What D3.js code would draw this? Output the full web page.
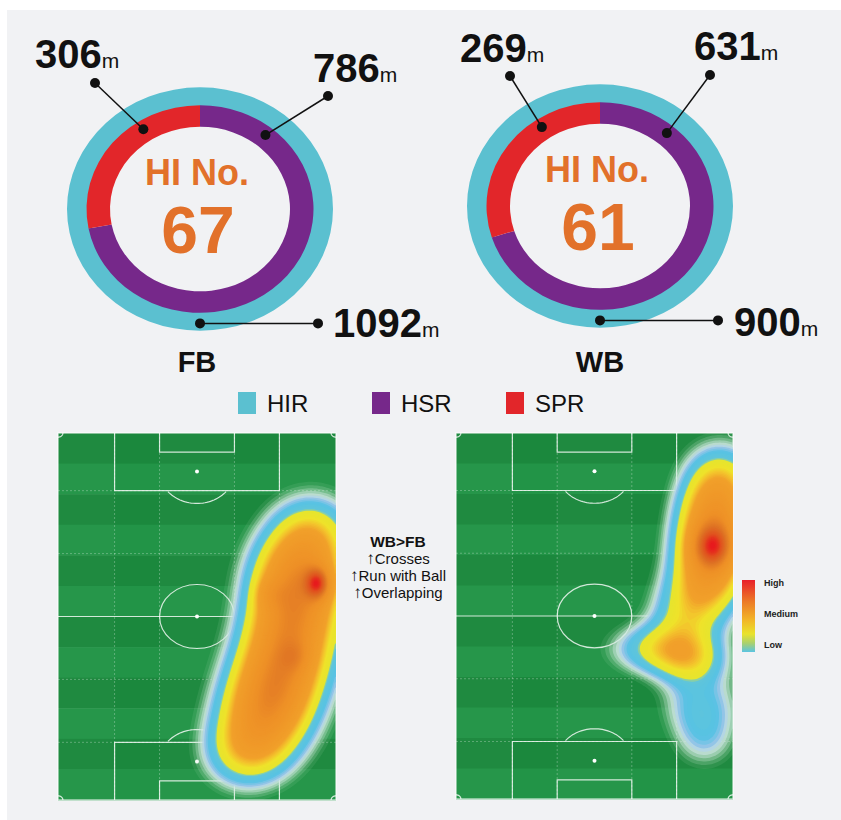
<!DOCTYPE html>
<html><head><meta charset="utf-8">
<script src="https://cdn.jsdelivr.net/npm/d3@7"></script>
<style>
body{margin:0;background:#fff;}
svg{display:block;font-family:"Liberation Sans",Arial,Helvetica,sans-serif;}
</style>
</head><body>
<svg id="c" width="841" height="820"></svg>
<script>
// ---------------- DATA ----------------
const groups = ["FB", "WB"];
const hiNumbers = [67, 61];
const hirValues = [1092, 900];
const hsrValues = [786, 631];
const sprValues = [306, 269];
const seriesNames = ["HIR", "HSR", "SPR"];
const noteTitle = "WB>FB";
const noteItems = ["Crosses", "Run with Ball", "Overlapping"];
const heatLevels = ["High", "Medium", "Low"];
// heat hotspots: [across pitch 0-68, along pitch 0-105, weight, spreadX, spreadY]
const fbHeat = [
  [62, 28, 0.4, 7, 7.5], [59, 39, 0.7, 7.5, 8], [58, 50, 0.7, 7.5, 8], [56, 62, 0.7, 7.5, 8],
  [53, 73, 0.7, 7.5, 8], [50, 83, 0.6, 7.5, 8], [46, 92, 0.38, 7, 7],
  [63.5, 43, 0.8, 2, 3], [52, 46, 0.14, 2.5, 3], [58, 64, 0.14, 2.5, 3]
];
const wbHeat = [
  [65, 12, 0.3, 6, 7], [64, 21, 0.55, 6, 8], [63, 31, 0.7, 6, 8], [62, 42, 0.55, 6, 8],
  [56, 53, 0.35, 6, 8], [50, 62, 0.4, 8, 5], [58, 66, 0.3, 6, 5],
  [60, 78, 0.25, 6.5, 6], [61, 88, 0.2, 5.5, 6], [63, 32.5, 0.7, 3, 4], [31, 37, 0.07, 4, 8]
];

// ---------------- LAYOUT ----------------
const svg = d3.select("#c");
const W = 841, H = 820;
const panel = "#f1f2f4";
svg.append("rect").attr("x", 7).attr("y", 10).attr("width", W - 7).attr("height", H - 10).attr("fill", panel);

const colors = { HIR: "#5bc0d0", HSR: "#76288a", SPR: "#e2262a" };
const orange = "#e2712a";
const sy = 0.915;

const donuts = [
  { cx: 200, cy: 209,
    spr: { ang: -33, dotX: 95, dotY: 83, tx: 35, ty: 68 },
    hsr: { ang: 39, dotX: 328, dotY: 96, tx: 313, ty: 82 },
    hir: { ang: 180, dotX: 318, tx: 333, ty: 337 },
    name: [197, 372] },
  { cx: 600, cy: 206,
    spr: { ang: -34, dotX: 510, dotY: 76, tx: 460, ty: 62 },
    hsr: { ang: 40, dotX: 710, dotY: 75, tx: 694, ty: 60 },
    hir: { ang: 180, dotX: 718, tx: 734, ty: 336 },
    name: [600, 372] }
];

const arcOuter = d3.arc().innerRadius(110).outerRadius(133);
const arcInner = d3.arc().innerRadius(90).outerRadius(113.5);
const pie = d3.pie().sort(null).value(d => d.v);

groups.forEach((gname, i) => {
  const L = donuts[i];
  const g = svg.append("g").attr("transform", `translate(${L.cx},${L.cy}) scale(1,${sy})`);
  g.append("path").attr("d", arcOuter({ startAngle: 0, endAngle: 2 * Math.PI })).attr("fill", colors.HIR);
  g.append("circle").attr("r", 90).attr("fill", panel);
  const slices = pie([{ k: "HSR", v: hsrValues[i] }, { k: "SPR", v: sprValues[i] }]);
  g.selectAll("path.s").data(slices).join("path").attr("class", "s")
    .attr("d", arcInner).attr("fill", d => colors[d.data.k]);

  svg.append("text").attr("x", L.cx - 3).attr("y", L.cy - 24).attr("text-anchor", "middle")
    .attr("font-size", 36).attr("font-weight", "bold").attr("fill", orange).text("HI No.");
  svg.append("text").attr("x", L.cx - 2).attr("y", L.cy + 44).attr("text-anchor", "middle")
    .attr("font-size", 66).attr("font-weight", "bold").attr("fill", orange).text(hiNumbers[i]);

  const items = [
    { key: "spr", v: sprValues[i], r: 104 },
    { key: "hsr", v: hsrValues[i], r: 104 },
    { key: "hir", v: hirValues[i], r: 125 }
  ];
  items.forEach(it => {
    const c = L[it.key];
    const a = c.ang * Math.PI / 180;
    const px = L.cx + it.r * Math.sin(a), py = L.cy - it.r * Math.cos(a) * sy;
    const dy = c.dotY === undefined ? py : c.dotY;
    svg.append("line").attr("x1", px).attr("y1", py).attr("x2", c.dotX).attr("y2", dy)
      .attr("stroke", "#111").attr("stroke-width", 1.5);
    svg.append("circle").attr("cx", px).attr("cy", py).attr("r", 5).attr("fill", "#111");
    svg.append("circle").attr("cx", c.dotX).attr("cy", dy).attr("r", 5).attr("fill", "#111");
    const t = svg.append("text").attr("x", c.tx).attr("y", c.ty).attr("fill", "#111");
    t.append("tspan").attr("font-size", 40).attr("font-weight", "bold").text(it.v);
    t.append("tspan").attr("font-size", 21).text("m");
  });
  svg.append("text").attr("x", L.name[0]).attr("y", L.name[1]).attr("text-anchor", "middle")
    .attr("font-size", 29).attr("font-weight", "bold").attr("fill", "#111").text(gname);
});

// legend
const legX = d3.scaleLinear().domain([0, 2]).range([238, 506]);
seriesNames.forEach((s, i) => {
  svg.append("rect").attr("x", legX(i)).attr("y", 392).attr("width", 18).attr("height", 22).attr("fill", colors[s]);
  svg.append("text").attr("x", legX(i) + 29).attr("y", 412).attr("font-size", 24).attr("fill", "#111").text(s);
});

// notes
const notes = svg.append("text").attr("text-anchor", "middle").attr("fill", "#111");
notes.append("tspan").attr("x", 398).attr("y", 547).attr("font-size", 15.5).attr("font-weight", "bold").text(noteTitle);
noteItems.forEach((n, i) => {
  const ts = notes.append("tspan").attr("x", 398).attr("y", 564 + i * 16.8).attr("font-size", 15);
  ts.append("tspan").attr("font-weight", "bold").attr("font-size", 17).text("\u2191");
  ts.append("tspan").text(n);
});

// ---------------- PITCHES ----------------
const PW = 68, PL = 105, res = 2;
const heatStops = [
  [0.03, "rgba(225,240,228,0.0)"],
  [0.06, "rgba(215,238,222,0.22)"],
  [0.09, "rgba(210,232,232,0.55)"],
  [0.11, "#9cc6e8"],
  [0.14, "#56c2e4"],
  [0.195, "#62c6d8"],
  [0.205, "#e5e52e"],
  [0.27, "#efe22a"],
  [0.31, "#f3c42c"],
  [0.36, "#f1a02a"],
  [0.60, "#ee9026"],
  [0.75, "#de7224"],
  [0.88, "#e0531f"],
  [1.0, "#e8151d"]
];
const heatColor = d3.scaleLinear().domain(heatStops.map(d => d[0])).range(heatStops.map(d => d[1]))
  .interpolate(d3.interpolateRgb).clamp(true);

const pitches = [
  { x0: 58, x1: 336, y0: 433, y1: 800, heat: fbHeat },
  { x0: 456, x1: 733, y0: 433, y1: 799, heat: wbHeat }
];

const defs = svg.append("defs");
pitches.forEach((P, pi) => {
  const x = d3.scaleLinear().domain([0, PW]).range([P.x0, P.x1]);
  const y = d3.scaleLinear().domain([0, PL]).range([P.y0, P.y1]);
  const g = svg.append("g");
  defs.append("clipPath").attr("id", "clip" + pi).append("rect")
    .attr("x", P.x0).attr("y", P.y0).attr("width", P.x1 - P.x0).attr("height", P.y1 - P.y0);

  const nStripe = 12;
  g.selectAll("rect.st").data(d3.range(nStripe)).join("rect").attr("class", "st")
    .attr("x", x(0)).attr("width", x(PW) - x(0))
    .attr("y", d => y(d * PL / nStripe)).attr("height", y(PL / nStripe) - y(0) + 0.5)
    .attr("fill", d => d % 2 === 0 ? "#1b883d" : "#229447");
  const cols = [0, 13.84, 24.84, 43.16, 54.16, PW];
  g.selectAll("rect.col").data(d3.range(cols.length - 1)).join("rect").attr("class", "col")
    .attr("x", d => x(cols[d])).attr("width", d => x(cols[d + 1]) - x(cols[d]))
    .attr("y", y(0)).attr("height", y(PL) - y(0))
    .attr("fill", "#ffffff").attr("opacity", d => d % 2 === 0 ? 0.02 : 0);

  const grid = g.append("g").attr("stroke", "#ffffff").attr("stroke-opacity", 0.35)
    .attr("stroke-width", 0.8).attr("stroke-dasharray", "2,2");
  [13.84, 24.84, 43.16, 54.16].forEach(v => grid.append("line").attr("x1", x(v)).attr("x2", x(v)).attr("y1", y(0)).attr("y2", y(PL)));
  [16.5, 34.5, 70.5, 88.5].forEach(v => grid.append("line").attr("x1", x(0)).attr("x2", x(PW)).attr("y1", y(v)).attr("y2", y(v)));

  const ln = g.append("g").attr("fill", "none").attr("stroke", "#ffffff").attr("stroke-opacity", 0.8).attr("stroke-width", 1.2);
  ln.append("rect").attr("x", x(0)).attr("y", y(0)).attr("width", x(PW) - x(0)).attr("height", y(PL) - y(0));
  ln.append("line").attr("x1", x(0)).attr("x2", x(PW)).attr("y1", y(52.5)).attr("y2", y(52.5));
  ln.append("ellipse").attr("cx", x(34)).attr("cy", y(52.5)).attr("rx", x(9.15) - x(0)).attr("ry", y(9.15) - y(0));
  [[0, 1], [PL, -1]].forEach(([base, dir]) => {
    const yy = v => y(base + dir * v);
    ln.append("path").attr("d", `M${x(13.84)},${yy(0)}V${yy(16.5)}H${x(54.16)}V${yy(0)}`);
    ln.append("path").attr("d", `M${x(24.84)},${yy(0)}V${yy(5.5)}H${x(43.16)}V${yy(0)}`);
    const arcPts = d3.range(0, 181, 3).map(t => {
      const a = t * Math.PI / 180;
      return [34 + 9.15 * Math.cos(a), 11 + 9.15 * Math.sin(a)];
    }).filter(p => p[1] >= 16.5);
    ln.append("path").attr("d", d3.line().x(p => x(p[0])).y(p => yy(p[1]))(arcPts));
    g.append("circle").attr("cx", x(34)).attr("cy", yy(11)).attr("r", 2).attr("fill", "#fff");
  });
  g.append("circle").attr("cx", x(34)).attr("cy", y(52.5)).attr("r", 2).attr("fill", "#fff");
  [[0, 0], [PW, 0], [0, PL], [PW, PL]].forEach(([cx, cy]) => {
    const pts = d3.range(0, 91, 10).map(t => {
      const a = t * Math.PI / 180;
      return [cx + (cx === 0 ? 1 : -1) * 1.2 * Math.cos(a), cy + (cy === 0 ? 1 : -1) * 1.2 * Math.sin(a)];
    });
    ln.append("path").attr("d", d3.line().x(p => x(p[0])).y(p => y(p[1]))(pts));
  });

  // heat density grid
  const nx = PW * res, ny = PL * res;
  const vals = new Array(nx * ny);
  for (let j = 0; j < ny; j++) for (let i = 0; i < nx; i++) {
    const px = (i + 0.5) / res, py = (j + 0.5) / res;
    let s = 0;
    P.heat.forEach(([hx, hy, w, sx, sy2]) => {
      s += w * Math.exp(-((px - hx) ** 2) / (2 * sx * sx) - ((py - hy) ** 2) / (2 * sy2 * sy2));
    });
    vals[j * nx + i] = s;
  }
  const mx = d3.max(vals);
  const norm = vals.map(v => v / mx);
  const thresholds = d3.range(0.03, 1.0, 0.012);
  const contours = d3.contours().size([nx, ny]).thresholds(thresholds).smooth(true)(norm);
  const proj = d3.geoTransform({ point: function (px, py) { this.stream.point(x(px / res), y(py / res)); } });
  const path = d3.geoPath(proj);
  svg.append("g").attr("clip-path", `url(#clip${pi})`)
    .selectAll("path").data(contours).join("path")
    .attr("d", path).attr("fill", d => heatColor(d.value));
});

// heat legend
const lg = defs.append("linearGradient").attr("id", "hg").attr("x1", 0).attr("x2", 0).attr("y1", 0).attr("y2", 1);
[[0, "#e8202a"], [0.3, "#ec7a26"], [0.55, "#f2b428"], [0.75, "#e9e32c"], [0.88, "#a8d070"], [1, "#5ac4e2"]]
  .forEach(([o, c]) => lg.append("stop").attr("offset", o).attr("stop-color", c));
svg.append("rect").attr("x", 742).attr("y", 580).attr("width", 13).attr("height", 72).attr("fill", "url(#hg)");
const hy = d3.scalePoint().domain(heatLevels).range([586, 648]);
heatLevels.forEach(l => svg.append("text").attr("x", 764).attr("y", hy(l)).attr("font-size", 9)
  .attr("font-weight", "bold").attr("fill", "#222").text(l));
</script>
</body></html>
